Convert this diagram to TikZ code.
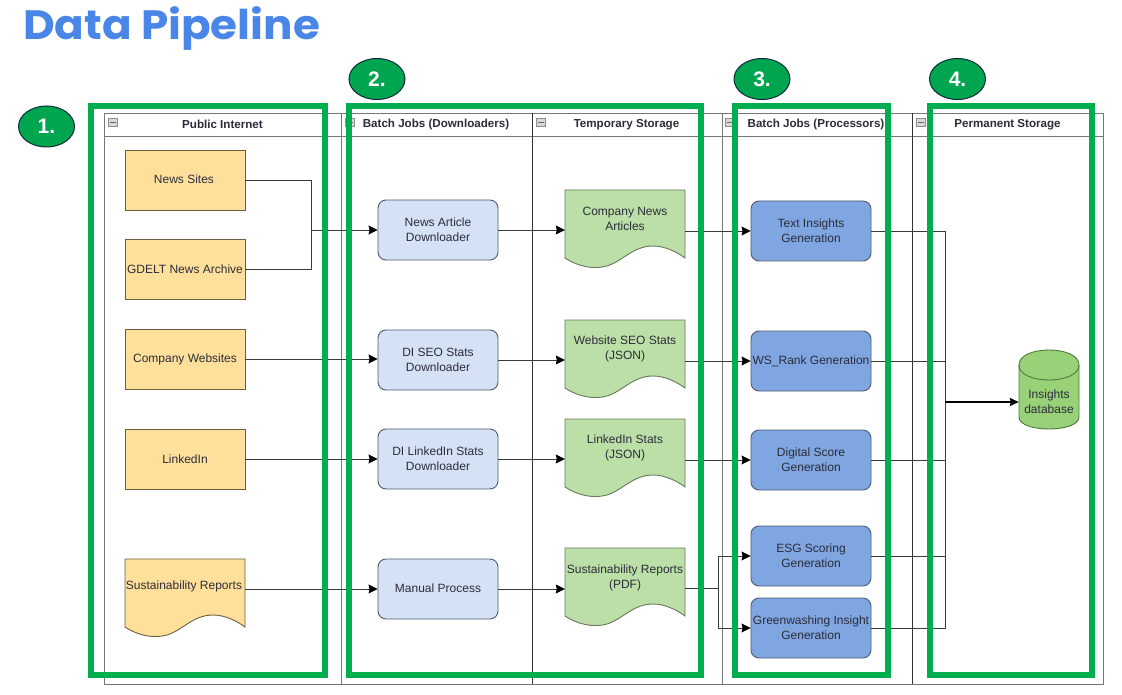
\documentclass[tikz,border=0pt]{standalone}
\usepackage{fontspec}
\setmainfont{Liberation Sans}
\newfontfamily\titlefont[FakeStretch=1.065]{Poppins}
\usetikzlibrary{arrows.meta,shapes.geometric}
\definecolor{gframe}{HTML}{00AE4F}
\definecolor{gball}{HTML}{00A54F}
\definecolor{navy}{HTML}{0B2A3C}
\definecolor{yel}{HTML}{FFE09B}
\definecolor{yelb}{HTML}{6B5F40}
\definecolor{lblue}{HTML}{D5E2F6}
\definecolor{mblue}{HTML}{7FA6E1}
\definecolor{bborder}{HTML}{4F5B70}
\definecolor{lgreen}{HTML}{BBDFA6}
\definecolor{gborder}{HTML}{66795A}
\definecolor{dbgreen}{HTML}{98D178}
\definecolor{dbborder}{HTML}{4F7A3C}
\definecolor{laneg}{HTML}{777777}
\definecolor{txt}{HTML}{2C2C3A}
\definecolor{conn}{HTML}{3A3A3A}
\definecolor{titleblue}{HTML}{4A86E8}
\tikzset{
  x=1pt,y=-1pt,
  lbl/.style={font=\fontsize{12}{15}\selectfont,text=txt,align=center,inner sep=0pt},
  srcbox/.style={lbl,draw=yelb,fill=yel,line width=.9pt,minimum width=120pt,minimum height=60pt},
  dlbox/.style={lbl,draw=bborder,fill=lblue,line width=.9pt,rounded corners=8pt,minimum width=120pt,minimum height=60pt},
  procbox/.style={lbl,draw=bborder,fill=mblue,line width=.9pt,rounded corners=8pt,minimum width=120pt,minimum height=60pt},
  docslot/.style={lbl,minimum width=120pt},
  lanehead/.style={font=\bfseries\fontsize{11.6}{14}\selectfont,text=txt,inner sep=0pt},
  lane/.style={draw=laneg,line width=.9pt},
  laneinner/.style={draw=black!80,line width=.8pt},
  minusicon/.style={draw=black!45,fill=black!15,line width=.6pt,minimum width=9pt,minimum height=8pt,inner sep=0pt},
  greenframe/.style={draw=gframe,line width=6pt},
  ball/.style={draw=navy,fill=gball,line width=1pt,ellipse,minimum width=56pt,minimum height=41pt,inner sep=0pt,text=white,font=\bfseries\fontsize{21}{24}\selectfont},
  link/.style={draw=conn,line width=.9pt},
  arrowlink/.style={link,-{Stealth[length=9pt,width=9pt,inset=1pt,color=black]}},
  docshape/.style={line width=.9pt}
}
\newcommand{\wavepath}[2]{% #1 height, #2 style
  \path[#2] (0,0) -- (120,0) -- (120,#1-11)
    .. controls (112,#1-17) and (100,#1-23) .. (88,#1-23)
    .. controls (68,#1-23) and (58,#1-8) .. (42,#1-3)
    .. controls (28,#1+1) and (12,#1-3) .. (0,#1-11) -- cycle;}
\begin{document}
\begin{tikzpicture}
\useasboundingbox (0,0) rectangle (1122,695);
\fill[white] (0,0) rectangle (1122,695);

\node[anchor=base west,inner sep=0pt,font=\titlefont\bfseries\fontsize{41}{44}\selectfont,text=titleblue] (title) at (23,39.5) {Data Pipeline};

% swimlanes
\draw[lane] (104,113) rectangle (1103,684);
\draw[lane] (104,136) -- (1103,136);
\draw[lane] (341,113) -- (341,684);
\draw[laneinner] (532,113) -- (532,684);
\draw[lane] (722,113) -- (722,684);
\draw[laneinner] (912,113) -- (912,684);
\node[lanehead] (h1) at (222.5,124.5) {Public Internet};
\node[lanehead] (h2) at (436,124.5) {Batch Jobs (Downloaders)};
\node[lanehead] (h3) at (626.5,124.5) {Temporary Storage};
\node[lanehead] (h4) at (816,124.5) {Batch Jobs (Processors)};
\node[lanehead] (h5) at (1007.5,124.5) {Permanent Storage};
\foreach \n/\ix in {m1/113,m2/350,m3/541,m4/730,m5/921}{
  \node[minusicon] (\n) at (\ix,122) {};
  \draw[black!60,line width=.8pt] (\ix-3,122) -- (\ix+3,122);
}

% sources
\node[srcbox] (s1) at (185,180) {};
\node[lbl] (s1t) at (184,179) {News Sites};
\node[srcbox] (s2) at (185,269) {GDELT News Archive};
\node[srcbox] (s3) at (185,359) {Company Websites};
\node[srcbox] (s4) at (185,459) {LinkedIn};
\begin{scope}[shift={(125,559)}]
  \wavepath{79}{draw=yelb,fill=yel,docshape}
\end{scope}
\node[docslot,minimum height=60pt] (s5) at (185,589) {};
\node[lbl] (s5t) at (184,586) {Sustainability Reports};

% downloaders
\node[dlbox] (d1) at (438,230) {News Article\\Downloader};
\node[dlbox] (d2) at (438,360) {DI SEO Stats\\Downloader};
\node[dlbox] (d3) at (438,459) {DI LinkedIn Stats\\Downloader};
\node[dlbox] (d4) at (438,589) {\raisebox{1.5pt}{Manual Process}};

% temporary storage documents
\begin{scope}[shift={(565,190)}]\wavepath{79}{draw=gborder,fill=lgreen,docshape}\end{scope}
\begin{scope}[shift={(565,320)}]\wavepath{79}{draw=gborder,fill=lgreen,docshape}\end{scope}
\begin{scope}[shift={(565,419)}]\wavepath{79}{draw=gborder,fill=lgreen,docshape}\end{scope}
\begin{scope}[shift={(565,548)}]\wavepath{79}{draw=gborder,fill=lgreen,docshape}\end{scope}
\node[docslot,minimum height=60pt] (t1) at (625,230) {};
\node[docslot,minimum height=60pt] (t2) at (625,360) {};
\node[docslot,minimum height=60pt] (t3) at (625,459) {};
\node[docslot,minimum height=60pt] (t4) at (625,588) {};
\node[lbl] (t1t) at (625,218.5) {Company News\\Articles};
\node[lbl] (t2t) at (625,348.5) {Website SEO Stats\\(JSON)};
\node[lbl] (t3t) at (625,447.5) {LinkedIn Stats\\(JSON)};
\node[lbl] (t4t) at (625,577.5) {Sustainability Reports\\(PDF)};

% processors
\node[procbox] (p1) at (811,231) {Text Insights\\Generation};
\node[procbox] (p2) at (811,361) {WS\_Rank Generation};
\node[procbox] (p3) at (811,460) {Digital Score\\Generation};
\node[procbox] (p4) at (811,556) {ESG Scoring\\Generation};
\node[procbox] (p5) at (811,628) {Greenwashing Insight\\Generation};

% database
\path[draw=dbborder,fill=dbgreen,line width=.9pt]
  (1019,365) .. controls (1019,345) and (1079,345) .. (1079,365)
  -- (1079,417) .. controls (1079,433) and (1019,433) .. (1019,417) -- cycle;
\draw[dbborder,line width=.9pt] (1019,365) .. controls (1019,385) and (1079,385) .. (1079,365);
\node[lbl,minimum width=60pt,minimum height=54pt] (db) at (1049,402) {Insights\\database};

% connectors
\coordinate (merge) at (311,230);
\coordinate (split) at (718,588);
\coordinate (bus) at (945,402);
\draw[link] (s1.east) -| (merge);
\draw[link] (s2.east) -| (merge);
\draw[arrowlink] (merge) -- (d1.west);
\draw[arrowlink] (s3.east) -- (s3.east -| d2.west);
\draw[arrowlink] (s4.east) -- (d3.west);
\draw[arrowlink] (s5.east) -- (d4.west);
\draw[arrowlink] (d1.east) -- (t1.west);
\draw[arrowlink] (d2.east) -- (t2.west);
\draw[arrowlink] (d3.east) -- (t3.west);
\draw[arrowlink] (d4.east) -- (d4.east -| t4.west);
\draw[arrowlink] (t1.east |- p1.west) -- (p1.west);
\draw[arrowlink] (t2.east |- p2.west) -- (p2.west);
\draw[arrowlink] (t3.east |- p3.west) -- (p3.west);
\draw[link] (t4.east) -- (split);
\draw[arrowlink] (split) |- (p4.west);
\draw[arrowlink] (split) |- (p5.west);
\draw[link] (p1.east) -| (bus);
\draw[link] (p2.east) -| (bus);
\draw[link] (p3.east) -| (bus);
\draw[link] (p4.east) -| (bus);
\draw[link] (p5.east) -| (bus);
\draw[-{Stealth[length=9pt,width=8pt,inset=1pt]},black,line width=1.4pt] (bus) -- (db.west);

% green frames
\draw[greenframe] (91,106) rectangle (325,674.5);
\draw[greenframe] (349,106) rectangle (701,674.5);
\draw[greenframe] (735,106) rectangle (888,674.5);
\draw[greenframe] (930,106) rectangle (1092,674.5);

% number badges
\node[ball] (b1) at (46.5,126.5) {1.};
\node[ball] (b2) at (377,79) {2.};
\node[ball] (b3) at (762,79) {3.};
\node[ball] (b4) at (957.5,79) {4.};
\end{tikzpicture}
\end{document}
